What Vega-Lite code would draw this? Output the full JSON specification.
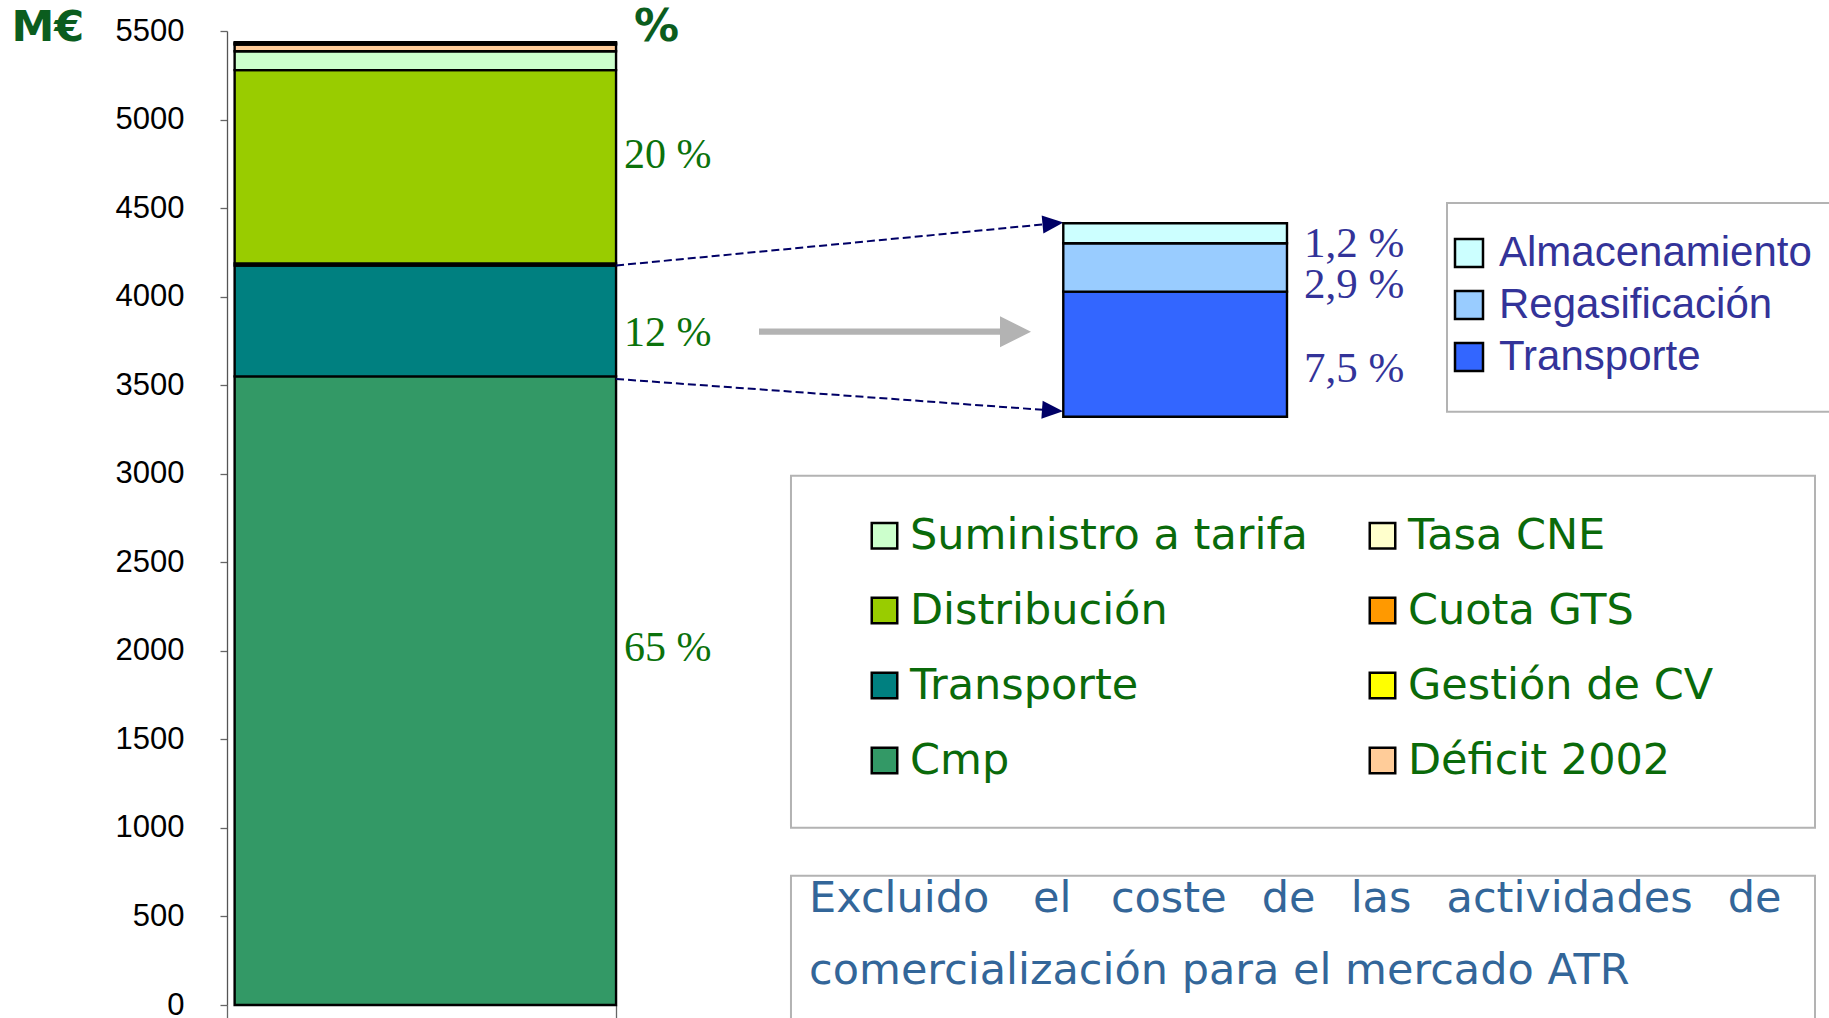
{
  "$schema": "https://vega.github.io/schema/vega-lite/v6.json",
  "width": 1602,
  "height": 974,
  "autosize": {"type": "none"},
  "padding": {"left": 227, "top": 31, "right": 0, "bottom": 13},
  "background": "white",
  "config": {"view": {"stroke": null}},
  "datasets": {
    "costes": [
      {"concepto": "Cmp", "valor": 3550, "orden": 1},
      {"concepto": "Transporte", "valor": 626, "orden": 2},
      {"concepto": "Gestión de CV", "valor": 12, "orden": 3},
      {"concepto": "Distribución", "valor": 1091, "orden": 4},
      {"concepto": "Suministro a tarifa", "valor": 107, "orden": 5},
      {"concepto": "Déficit 2002", "valor": 37, "orden": 6},
      {"concepto": "Cuota GTS", "valor": 8, "orden": 7},
      {"concepto": "Tasa CNE", "valor": 6, "orden": 8}
    ],
    "transporte": [
      {"componente": "Transporte", "pct": 7.5, "orden": 1},
      {"componente": "Regasificación", "pct": 2.9, "orden": 2},
      {"componente": "Almacenamiento", "pct": 1.2, "orden": 3}
    ]
  },
  "resolve": {
    "scale": {"y": "independent", "color": "independent"},
    "axis": {"y": "independent"},
    "legend": {"color": "independent"}
  },
  "layer": [
    {
      "layer": [
        {
          "data": {"name": "costes"},
          "transform": [{"stack": "valor", "groupby": [], "sort": [{"field": "orden", "order": "ascending"}], "as": ["y0", "y1"]}],
          "mark": {"type": "rect", "stroke": "black", "strokeWidth": 2.4},
          "encoding": {
            "x": {"datum": 0, "type": "quantitative", "scale": {"domain": [-0.02, 4.18], "nice": false, "zero": false},
              "axis": {"values": [-0.02, 1], "labels": false, "domain": false, "title": null, "tickSize": 13, "tickColor": "#666666", "tickWidth": 1.3, "grid": false}},
            "x2": {"datum": 1},
            "y": {"field": "y0", "type": "quantitative", "scale": {"domain": [0, 5500], "nice": false, "zero": false},
              "axis": {"values": [0, 500, 1000, 1500, 2000, 2500, 3000, 3500, 4000, 4500, 5000, 5500], "format": "d",
                "title": "M€", "titleAngle": 0, "titleX": -216, "titleY": 9.7, "titleAlign": "left", "titleBaseline": "alphabetic",
                "titleFont": "DejaVu Sans", "titleFontWeight": "bold", "titleFontSize": 43, "titleColor": "#0b5d1e",
                "labelFont": "Liberation Sans", "labelFontSize": 31, "labelColor": "black", "labelPadding": 36,
                "labelFlush": false, "labelOverlap": false, "tickSize": 7, "tickColor": "#666666", "tickWidth": 1.3,
                "domainColor": "#555555", "domainWidth": 1.3, "grid": false}},
            "y2": {"field": "y1"},
            "color": {"field": "concepto", "type": "nominal",
              "scale": {"domain": ["Suministro a tarifa", "Distribución", "Transporte", "Cmp", "Tasa CNE", "Cuota GTS", "Gestión de CV", "Déficit 2002"],
                "range": ["#CCFFCC", "#99CC00", "#008080", "#339966", "#FFFFCC", "#FF9900", "#FFFF00", "#FFCC99"]},
              "legend": {"orient": "none", "legendX": 636, "legendY": 483, "columns": 2, "columnPadding": 53, "rowPadding": 31,
                "title": null, "symbolType": "square", "symbolSize": 650, "symbolStrokeColor": "black", "symbolStrokeWidth": 2.5,
                "labelFont": "DejaVu Sans", "labelFontSize": 43, "labelColor": "#0a6a0a", "labelOffset": 4, "labelLimit": 0, "padding": 0,
                "encode": {"symbols": {"update": {"stroke": {"value": "black"}, "strokeWidth": {"value": 2.5}}}}}}
          }
        },
        {
          "data": {"values": [{}]},
          "mark": {"type": "text", "text": "20 %", "font": "Liberation Serif", "fontSize": 42, "color": "#0b720b", "align": "left", "baseline": "alphabetic"},
          "encoding": {
            "x": {"datum": 1.0208, "type": "quantitative", "scale": {"domain": [-0.02, 4.18], "nice": false, "zero": false}},
            "y": {"datum": 4725, "type": "quantitative", "scale": {"domain": [0, 5500], "nice": false, "zero": false}}
          }
        },
        {
          "data": {"values": [{}]},
          "mark": {"type": "text", "text": "12 %", "font": "Liberation Serif", "fontSize": 42, "color": "#0b720b", "align": "left", "baseline": "alphabetic"},
          "encoding": {
            "x": {"datum": 1.0208, "type": "quantitative", "scale": {"domain": [-0.02, 4.18], "nice": false, "zero": false}},
            "y": {"datum": 3721, "type": "quantitative", "scale": {"domain": [0, 5500], "nice": false, "zero": false}}
          }
        },
        {
          "data": {"values": [{}]},
          "mark": {"type": "text", "text": "65 %", "font": "Liberation Serif", "fontSize": 42, "color": "#0b720b", "align": "left", "baseline": "alphabetic"},
          "encoding": {
            "x": {"datum": 1.0208, "type": "quantitative", "scale": {"domain": [-0.02, 4.18], "nice": false, "zero": false}},
            "y": {"datum": 1944, "type": "quantitative", "scale": {"domain": [0, 5500], "nice": false, "zero": false}}
          }
        },
        {
          "data": {"values": [{}]},
          "mark": {"type": "text", "text": "%", "font": "DejaVu Sans", "fontWeight": "bold", "fontSize": 45, "color": "#0b5d1e", "align": "left", "baseline": "alphabetic"},
          "encoding": {
            "x": {"datum": 1.047, "type": "quantitative", "scale": {"domain": [-0.02, 4.18], "nice": false, "zero": false}},
            "y": {"datum": 5445, "type": "quantitative", "scale": {"domain": [0, 5500], "nice": false, "zero": false}}
          }
        },
        {
          "data": {"values": [{}]},
          "mark": {"type": "rule", "color": "#000066", "strokeWidth": 2, "strokeDash": [8, 4]},
          "encoding": {
            "x": {"datum": 1.0, "type": "quantitative", "scale": {"domain": [-0.02, 4.18], "nice": false, "zero": false}},
            "x2": {"datum": 2.1455},
            "y": {"datum": 4176, "type": "quantitative", "scale": {"domain": [0, 5500], "nice": false, "zero": false}},
            "y2": {"datum": 4413}
          }
        },
        {
          "data": {"values": [{}]},
          "mark": {"type": "rule", "color": "#000066", "strokeWidth": 2, "strokeDash": [8, 4]},
          "encoding": {
            "x": {"datum": 1.0, "type": "quantitative", "scale": {"domain": [-0.02, 4.18], "nice": false, "zero": false}},
            "x2": {"datum": 2.1442},
            "y": {"datum": 3535, "type": "quantitative", "scale": {"domain": [0, 5500], "nice": false, "zero": false}},
            "y2": {"datum": 3357}
          }
        },
        {
          "data": {"values": [{}]},
          "mark": {"type": "point", "shape": "M-1,-0.85L1,0L-1,0.85Z", "filled": true, "color": "#000066", "opacity": 1, "size": 441, "angle": -5.5, "strokeWidth": 0},
          "encoding": {
            "x": {"datum": 2.1455, "type": "quantitative", "scale": {"domain": [-0.02, 4.18], "nice": false, "zero": false}},
            "y": {"datum": 4413, "type": "quantitative", "scale": {"domain": [0, 5500], "nice": false, "zero": false}}
          }
        },
        {
          "data": {"values": [{}]},
          "mark": {"type": "point", "shape": "M-1,-0.85L1,0L-1,0.85Z", "filled": true, "color": "#000066", "opacity": 1, "size": 441, "angle": 4.1, "strokeWidth": 0},
          "encoding": {
            "x": {"datum": 2.1442, "type": "quantitative", "scale": {"domain": [-0.02, 4.18], "nice": false, "zero": false}},
            "y": {"datum": 3357, "type": "quantitative", "scale": {"domain": [0, 5500], "nice": false, "zero": false}}
          }
        },
        {
          "data": {"values": [{}]},
          "mark": {"type": "rule", "color": "#b3b3b3", "strokeWidth": 6.3},
          "encoding": {
            "x": {"datum": 1.3748, "type": "quantitative", "scale": {"domain": [-0.02, 4.18], "nice": false, "zero": false}},
            "x2": {"datum": 2.0118},
            "y": {"datum": 3802, "type": "quantitative", "scale": {"domain": [0, 5500], "nice": false, "zero": false}}
          }
        },
        {
          "data": {"values": [{}]},
          "mark": {"type": "point", "shape": "M-1,-1L1,0L-1,1Z", "filled": true, "color": "#b3b3b3", "opacity": 1, "size": 961, "strokeWidth": 0},
          "encoding": {
            "x": {"datum": 2.0472, "type": "quantitative", "scale": {"domain": [-0.02, 4.18], "nice": false, "zero": false}},
            "y": {"datum": 3802, "type": "quantitative", "scale": {"domain": [0, 5500], "nice": false, "zero": false}}
          }
        },
        {
          "data": {"values": [{}]},
          "mark": {"type": "rect", "fill": "transparent", "stroke": "#b3b3b3", "strokeWidth": 2},
          "encoding": {
            "x": {"datum": 1.4586, "type": "quantitative", "scale": {"domain": [-0.02, 4.18], "nice": false, "zero": false}},
            "x2": {"datum": 4.1433},
            "y": {"datum": 2988.9, "type": "quantitative", "scale": {"domain": [0, 5500], "nice": false, "zero": false}},
            "y2": {"datum": 1001.2}
          }
        },
        {
          "data": {"values": [{}]},
          "mark": {"type": "rect", "fill": "transparent", "stroke": "#b3b3b3", "strokeWidth": 2},
          "encoding": {
            "x": {"datum": 3.1785, "type": "quantitative", "scale": {"domain": [-0.02, 4.18], "nice": false, "zero": false}},
            "x2": {"datum": 4.25},
            "y": {"datum": 4528.8, "type": "quantitative", "scale": {"domain": [0, 5500], "nice": false, "zero": false}},
            "y2": {"datum": 3350.3}
          }
        },
        {
          "data": {"values": [{}]},
          "mark": {"type": "rect", "fill": "transparent", "stroke": "#b3b3b3", "strokeWidth": 2},
          "encoding": {
            "x": {"datum": 1.4586, "type": "quantitative", "scale": {"domain": [-0.02, 4.18], "nice": false, "zero": false}},
            "x2": {"datum": 4.1433},
            "y": {"datum": 730.1, "type": "quantitative", "scale": {"domain": [0, 5500], "nice": false, "zero": false}},
            "y2": {"datum": -250}
          }
        },
        {
          "data": {"values": [{}]},
          "mark": {"type": "text", "text": "Excluido\u00a0\u2002\u2009el\u00a0\u2002\u200acoste\u00a0\u2002de\u00a0\u2002las\u00a0\u2002actividades\u00a0\u2002de", "font": "DejaVu Sans", "fontSize": 43, "color": "#336699", "align": "left", "baseline": "alphabetic"},
          "encoding": {
            "x": {"datum": 1.506, "type": "quantitative", "scale": {"domain": [-0.02, 4.18], "nice": false, "zero": false}},
            "y": {"datum": 526.9, "type": "quantitative", "scale": {"domain": [0, 5500], "nice": false, "zero": false}}
          }
        },
        {
          "data": {"values": [{}]},
          "mark": {"type": "text", "text": "comercialización para el mercado ATR", "font": "DejaVu Sans", "fontSize": 43, "color": "#336699", "align": "left", "baseline": "alphabetic"},
          "encoding": {
            "x": {"datum": 1.506, "type": "quantitative", "scale": {"domain": [-0.02, 4.18], "nice": false, "zero": false}},
            "y": {"datum": 118.6, "type": "quantitative", "scale": {"domain": [0, 5500], "nice": false, "zero": false}}
          }
        }
      ]
    },
    {
      "layer": [
        {
          "data": {"name": "transporte"},
          "transform": [{"stack": "pct", "groupby": [], "sort": [{"field": "orden", "order": "ascending"}], "as": ["p0", "p1"]}],
          "mark": {"type": "rect", "stroke": "black", "strokeWidth": 2.4},
          "encoding": {
            "x": {"datum": 2.1725, "type": "quantitative", "scale": {"domain": [-0.02, 4.18], "nice": false, "zero": false}},
            "x2": {"datum": 2.759},
            "y": {"field": "p0", "type": "quantitative", "scale": {"domain": [-35.287, 23.134], "nice": false, "zero": false}, "axis": null},
            "y2": {"field": "p1"},
            "color": {"field": "componente", "type": "nominal",
              "scale": {"domain": ["Almacenamiento", "Regasificación", "Transporte"], "range": ["#CCFFFF", "#99CCFF", "#3366FF"]},
              "legend": {"orient": "none", "legendX": 1221, "legendY": 201, "rowPadding": 10, "title": null,
                "symbolType": "square", "symbolSize": 784, "symbolStrokeColor": "black", "symbolStrokeWidth": 2.5,
                "labelFont": "Liberation Sans", "labelFontSize": 42, "labelColor": "#333399", "labelOffset": 9, "labelLimit": 0, "padding": 0,
                "encode": {"symbols": {"update": {"stroke": {"value": "black"}, "strokeWidth": {"value": 2.5}}}}}}
          }
        },
        {
          "data": {"values": [{}]},
          "mark": {"type": "text", "text": "1,2 %", "font": "Liberation Serif", "fontSize": 43, "color": "#333399", "align": "left", "baseline": "alphabetic"},
          "encoding": {
            "x": {"datum": 2.8036, "type": "quantitative", "scale": {"domain": [-0.02, 4.18], "nice": false, "zero": false}},
            "y": {"datum": 9.597, "type": "quantitative", "scale": {"domain": [-35.287, 23.134], "nice": false, "zero": false}, "axis": null}
          }
        },
        {
          "data": {"values": [{}]},
          "mark": {"type": "text", "text": "2,9 %", "font": "Liberation Serif", "fontSize": 43, "color": "#333399", "align": "left", "baseline": "alphabetic"},
          "encoding": {
            "x": {"datum": 2.8036, "type": "quantitative", "scale": {"domain": [-0.02, 4.18], "nice": false, "zero": false}},
            "y": {"datum": 7.102, "type": "quantitative", "scale": {"domain": [-35.287, 23.134], "nice": false, "zero": false}, "axis": null}
          }
        },
        {
          "data": {"values": [{}]},
          "mark": {"type": "text", "text": "7,5 %", "font": "Liberation Serif", "fontSize": 43, "color": "#333399", "align": "left", "baseline": "alphabetic"},
          "encoding": {
            "x": {"datum": 2.8036, "type": "quantitative", "scale": {"domain": [-0.02, 4.18], "nice": false, "zero": false}},
            "y": {"datum": 2.099, "type": "quantitative", "scale": {"domain": [-35.287, 23.134], "nice": false, "zero": false}, "axis": null}
          }
        }
      ]
    }
  ]
}
